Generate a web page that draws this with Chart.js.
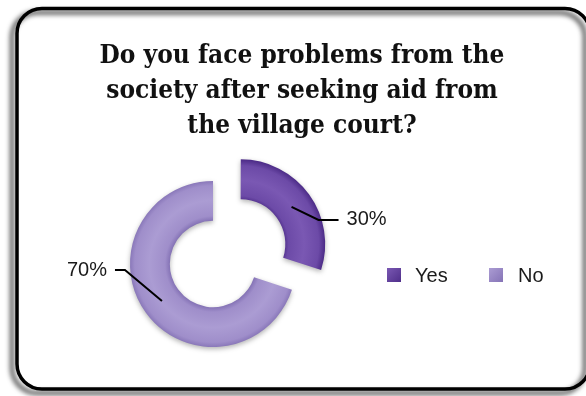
<!DOCTYPE html>
<html>
<head>
<meta charset="utf-8">
<script src="https://cdn.jsdelivr.net/npm/chart.js@4/dist/chart.umd.min.js"></script>
<style>
  html, body { margin: 0; padding: 0; background: #ffffff; }
  #wrap { width: 586px; height: 396px; position: relative; }
</style>
</head>
<body>
<div id="wrap"><canvas id="chart" width="586" height="396"></canvas></div>
<script>
// Survey answers
const titleLines = ['Do you face problems from the', 'society after seeking aid from', 'the village court?'];
const categories = ['Yes', 'No'];
const shares = [30, 70];
const pullOut = [136, 0];          // Chart.js arc offset (the slice moves by a quarter of this)

// Ring palette: [edge, body, highlight]
const palette = [
  ['#4f2e8a', '#6c4aa7', '#7a58b3'],
  ['#8573b6', '#9f8eca', '#ab9cd3']
];

const RING_RADIUS = 83;
const CUTOUT = 0.52;

function sliceGeometry(chart, i, withShift) {
  const a = chart.chartArea;
  const data = chart.data.datasets[0].data;
  const total = data.reduce((s, v) => s + v, 0);
  let before = 0;
  for (let k = 0; k < i; k++) before += data[k];
  const start = -Math.PI / 2 + before / total * Math.PI * 2;
  const end = start + data[i] / total * Math.PI * 2;
  const mid = (start + end) / 2;
  const shift = withShift ? (pullOut[i] || 0) / 4 : 0;
  return {
    cx: (a.left + a.right) / 2 + Math.cos(mid) * shift,
    cy: (a.top + a.bottom) / 2 + Math.sin(mid) * shift,
    mid
  };
}

// The arc is filled inside its own translated frame, so the gradient uses the unshifted centre
function ringFill(context) {
  const chart = context.chart;
  const i = context.dataIndex;
  if (!chart.chartArea) return palette[i][1];
  const g0 = sliceGeometry(chart, i, false);
  const R = RING_RADIUS, r = R * CUTOUT;
  const g = chart.ctx.createRadialGradient(g0.cx, g0.cy, r, g0.cx, g0.cy, R + 1);
  const [edge, body, hi] = palette[i];
  g.addColorStop(0, edge);
  g.addColorStop(0.12, body);
  g.addColorStop(0.5, hi);
  g.addColorStop(0.86, body);
  g.addColorStop(1, edge);
  return g;
}

// Rounded frame with a soft shadow to the lower left, and the title
const framePlugin = {
  id: 'frame',
  beforeDraw(chart) {
    const ctx = chart.ctx;
    ctx.save();
    ctx.fillStyle = '#ffffff';
    ctx.fillRect(0, 0, chart.width, chart.height);
    const x0 = 17, y0 = 8.5, x1 = 590, y1 = 389, rad = 25;
    ctx.beginPath();
    ctx.moveTo(x0 + rad, y0);
    ctx.lineTo(x1 - rad, y0);
    ctx.arcTo(x1, y0, x1, y0 + rad, rad);
    ctx.lineTo(x1, y1 - rad);
    ctx.arcTo(x1, y1, x1 - rad, y1, rad);
    ctx.lineTo(x0 + rad, y1);
    ctx.arcTo(x0, y1, x0, y1 - rad, rad);
    ctx.lineTo(x0, y0 + rad);
    ctx.arcTo(x0, y0, x0 + rad, y0, rad);
    ctx.closePath();
    ctx.shadowColor = 'rgba(0,0,0,0.8)';
    ctx.shadowBlur = 5;
    ctx.shadowOffsetX = -5;
    ctx.shadowOffsetY = 4;
    ctx.lineWidth = 3.5;
    ctx.strokeStyle = '#000000';
    ctx.stroke();
    ctx.restore();

    ctx.save();
    ctx.fillStyle = '#111111';
    ctx.font = 'bold 26px "DejaVu Serif Condensed", "DejaVu Serif"';
    ctx.textAlign = 'center';
    ctx.textBaseline = 'alphabetic';
    const baselines = [63, 98, 133];
    titleLines.forEach((t, k) => ctx.fillText(t, 302, baselines[k]));
    ctx.restore();
  }
};

// Soft shadow under the ring
const ringShadow = {
  id: 'ringShadow',
  beforeDatasetsDraw(chart) {
    const ctx = chart.ctx;
    ctx.save();
    ctx.shadowColor = 'rgba(0,0,0,0.3)';
    ctx.shadowBlur = 5;
    ctx.shadowOffsetX = 0;
    ctx.shadowOffsetY = 2;
  },
  afterDatasetsDraw(chart) {
    chart.ctx.restore();
  }
};

// Percentage labels with leader lines, and the legend row
const labelPlugin = {
  id: 'labels',
  afterDraw(chart) {
    const ctx = chart.ctx;
    const data = chart.data.datasets[0].data;
    const total = data.reduce((s, v) => s + v, 0);
    const R = RING_RADIUS, r = R * CUTOUT, midR = (R + r) / 2;
    // leader bends: [knee dx, knee dy, tail length, side]
    const leaders = [[27, 13, 20, 1], [-37, -31, -10, -1]];
    ctx.save();
    ctx.font = '20px "Liberation Sans"';
    ctx.fillStyle = '#1a1a1a';
    ctx.textBaseline = 'middle';
    data.forEach((v, i) => {
      const g = sliceGeometry(chart, i, true);
      const ax = g.cx + Math.cos(g.mid) * midR;
      const ay = g.cy + Math.sin(g.mid) * midR;
      const [kx, ky, tail, side] = leaders[i];
      const bx = ax + kx, by = ay + ky;
      const ex = bx + tail;
      ctx.beginPath();
      ctx.moveTo(ax, ay);
      ctx.lineTo(bx, by);
      ctx.lineTo(ex, by);
      ctx.lineWidth = 2;
      ctx.strokeStyle = '#000000';
      ctx.stroke();
      const pct = Math.round(v / total * 100) + '%';
      ctx.textAlign = side > 0 ? 'left' : 'right';
      ctx.fillText(pct, ex + side * 8, by);
    });

    const items = [[387, 415], [489, 518]];
    const ly = 275;
    categories.forEach((name, i) => {
      const [sx, tx] = items[i];
      const grad = ctx.createLinearGradient(sx, ly - 7, sx + 14, ly + 7);
      grad.addColorStop(0, palette[i][2]);
      grad.addColorStop(1, palette[i][0]);
      ctx.fillStyle = grad;
      ctx.fillRect(sx, ly - 7, 14, 14);
      ctx.fillStyle = '#1a1a1a';
      ctx.textAlign = 'left';
      ctx.fillText(name, tx, ly + 1);
    });
    ctx.restore();
  }
};

new Chart(document.getElementById('chart'), {
  type: 'doughnut',
  data: {
    labels: categories,
    datasets: [{
      data: shares,
      offset: pullOut,
      hoverOffset: 0,
      borderWidth: 0,
      radius: RING_RADIUS,
      cutout: (CUTOUT * 100) + '%',
      backgroundColor: ringFill
    }]
  },
  options: {
    responsive: false,
    devicePixelRatio: 1,
    animation: false,
    events: [],
    layout: { padding: { left: 0, right: 160, top: 132, bottom: 0 } },
    plugins: {
      legend: { display: false },
      tooltip: { enabled: false },
      title: { display: false }
    }
  },
  plugins: [framePlugin, ringShadow, labelPlugin]
});
</script>
</body>
</html>
